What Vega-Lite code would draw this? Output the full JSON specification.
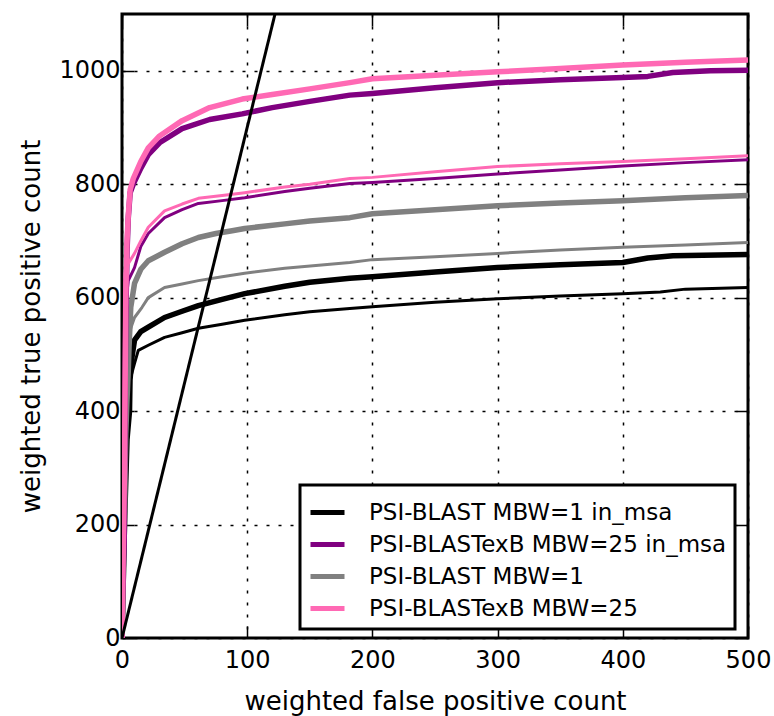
{
  "$schema": "https://vega.github.io/schema/vega-lite/v6.json",
  "width": 626,
  "height": 624,
  "autosize": "none",
  "padding": {"left": 122, "top": 14, "right": 26, "bottom": 78},
  "background": "white",
  "datasets": {
    "curves": [
      {"series":"PSI-BLAST MBW=1 in_msa","kind":"thick","x":0,"y":0},
      {"series":"PSI-BLAST MBW=1 in_msa","kind":"thick","x":2,"y":200},
      {"series":"PSI-BLAST MBW=1 in_msa","kind":"thick","x":4,"y":350},
      {"series":"PSI-BLAST MBW=1 in_msa","kind":"thick","x":6,"y":400},
      {"series":"PSI-BLAST MBW=1 in_msa","kind":"thick","x":6.4,"y":455},
      {"series":"PSI-BLAST MBW=1 in_msa","kind":"thick","x":8,"y":495},
      {"series":"PSI-BLAST MBW=1 in_msa","kind":"thick","x":10,"y":525},
      {"series":"PSI-BLAST MBW=1 in_msa","kind":"thick","x":15,"y":540},
      {"series":"PSI-BLAST MBW=1 in_msa","kind":"thick","x":21,"y":548},
      {"series":"PSI-BLAST MBW=1 in_msa","kind":"thick","x":34,"y":565},
      {"series":"PSI-BLAST MBW=1 in_msa","kind":"thick","x":48,"y":576},
      {"series":"PSI-BLAST MBW=1 in_msa","kind":"thick","x":61,"y":586},
      {"series":"PSI-BLAST MBW=1 in_msa","kind":"thick","x":80,"y":597},
      {"series":"PSI-BLAST MBW=1 in_msa","kind":"thick","x":98,"y":607},
      {"series":"PSI-BLAST MBW=1 in_msa","kind":"thick","x":130,"y":620},
      {"series":"PSI-BLAST MBW=1 in_msa","kind":"thick","x":150,"y":627},
      {"series":"PSI-BLAST MBW=1 in_msa","kind":"thick","x":182,"y":634},
      {"series":"PSI-BLAST MBW=1 in_msa","kind":"thick","x":200,"y":637},
      {"series":"PSI-BLAST MBW=1 in_msa","kind":"thick","x":250,"y":645},
      {"series":"PSI-BLAST MBW=1 in_msa","kind":"thick","x":300,"y":653},
      {"series":"PSI-BLAST MBW=1 in_msa","kind":"thick","x":350,"y":658},
      {"series":"PSI-BLAST MBW=1 in_msa","kind":"thick","x":400,"y":662},
      {"series":"PSI-BLAST MBW=1 in_msa","kind":"thick","x":420,"y":670},
      {"series":"PSI-BLAST MBW=1 in_msa","kind":"thick","x":440,"y":674},
      {"series":"PSI-BLAST MBW=1 in_msa","kind":"thick","x":500,"y":676},

      {"series":"PSI-BLAST MBW=1 in_msa","kind":"thin","x":0,"y":0},
      {"series":"PSI-BLAST MBW=1 in_msa","kind":"thin","x":2.5,"y":170},
      {"series":"PSI-BLAST MBW=1 in_msa","kind":"thin","x":3,"y":350},
      {"series":"PSI-BLAST MBW=1 in_msa","kind":"thin","x":5,"y":420},
      {"series":"PSI-BLAST MBW=1 in_msa","kind":"thin","x":7,"y":460},
      {"series":"PSI-BLAST MBW=1 in_msa","kind":"thin","x":10,"y":484},
      {"series":"PSI-BLAST MBW=1 in_msa","kind":"thin","x":13,"y":507},
      {"series":"PSI-BLAST MBW=1 in_msa","kind":"thin","x":21,"y":516},
      {"series":"PSI-BLAST MBW=1 in_msa","kind":"thin","x":34,"y":530},
      {"series":"PSI-BLAST MBW=1 in_msa","kind":"thin","x":48,"y":538},
      {"series":"PSI-BLAST MBW=1 in_msa","kind":"thin","x":61,"y":546},
      {"series":"PSI-BLAST MBW=1 in_msa","kind":"thin","x":80,"y":553},
      {"series":"PSI-BLAST MBW=1 in_msa","kind":"thin","x":98,"y":560},
      {"series":"PSI-BLAST MBW=1 in_msa","kind":"thin","x":130,"y":570},
      {"series":"PSI-BLAST MBW=1 in_msa","kind":"thin","x":150,"y":575},
      {"series":"PSI-BLAST MBW=1 in_msa","kind":"thin","x":182,"y":581},
      {"series":"PSI-BLAST MBW=1 in_msa","kind":"thin","x":200,"y":584},
      {"series":"PSI-BLAST MBW=1 in_msa","kind":"thin","x":250,"y":592},
      {"series":"PSI-BLAST MBW=1 in_msa","kind":"thin","x":300,"y":598},
      {"series":"PSI-BLAST MBW=1 in_msa","kind":"thin","x":350,"y":603},
      {"series":"PSI-BLAST MBW=1 in_msa","kind":"thin","x":400,"y":607},
      {"series":"PSI-BLAST MBW=1 in_msa","kind":"thin","x":430,"y":610},
      {"series":"PSI-BLAST MBW=1 in_msa","kind":"thin","x":450,"y":615},
      {"series":"PSI-BLAST MBW=1 in_msa","kind":"thin","x":500,"y":618},

      {"series":"PSI-BLAST MBW=1","kind":"thick","x":0,"y":0},
      {"series":"PSI-BLAST MBW=1","kind":"thick","x":2,"y":200},
      {"series":"PSI-BLAST MBW=1","kind":"thick","x":3,"y":360},
      {"series":"PSI-BLAST MBW=1","kind":"thick","x":4,"y":420},
      {"series":"PSI-BLAST MBW=1","kind":"thick","x":5,"y":470},
      {"series":"PSI-BLAST MBW=1","kind":"thick","x":5.6,"y":512},
      {"series":"PSI-BLAST MBW=1","kind":"thick","x":7,"y":583},
      {"series":"PSI-BLAST MBW=1","kind":"thick","x":10,"y":625},
      {"series":"PSI-BLAST MBW=1","kind":"thick","x":15,"y":650},
      {"series":"PSI-BLAST MBW=1","kind":"thick","x":21,"y":665},
      {"series":"PSI-BLAST MBW=1","kind":"thick","x":34,"y":680},
      {"series":"PSI-BLAST MBW=1","kind":"thick","x":48,"y":695},
      {"series":"PSI-BLAST MBW=1","kind":"thick","x":61,"y":706},
      {"series":"PSI-BLAST MBW=1","kind":"thick","x":75,"y":713},
      {"series":"PSI-BLAST MBW=1","kind":"thick","x":88,"y":718},
      {"series":"PSI-BLAST MBW=1","kind":"thick","x":98,"y":722},
      {"series":"PSI-BLAST MBW=1","kind":"thick","x":130,"y":730},
      {"series":"PSI-BLAST MBW=1","kind":"thick","x":150,"y":735},
      {"series":"PSI-BLAST MBW=1","kind":"thick","x":182,"y":741},
      {"series":"PSI-BLAST MBW=1","kind":"thick","x":200,"y":748},
      {"series":"PSI-BLAST MBW=1","kind":"thick","x":250,"y":755},
      {"series":"PSI-BLAST MBW=1","kind":"thick","x":300,"y":762},
      {"series":"PSI-BLAST MBW=1","kind":"thick","x":350,"y":767},
      {"series":"PSI-BLAST MBW=1","kind":"thick","x":400,"y":771},
      {"series":"PSI-BLAST MBW=1","kind":"thick","x":450,"y":776},
      {"series":"PSI-BLAST MBW=1","kind":"thick","x":500,"y":780},

      {"series":"PSI-BLAST MBW=1","kind":"thin","x":0,"y":0},
      {"series":"PSI-BLAST MBW=1","kind":"thin","x":2,"y":250},
      {"series":"PSI-BLAST MBW=1","kind":"thin","x":3,"y":420},
      {"series":"PSI-BLAST MBW=1","kind":"thin","x":4,"y":500},
      {"series":"PSI-BLAST MBW=1","kind":"thin","x":6,"y":540},
      {"series":"PSI-BLAST MBW=1","kind":"thin","x":10,"y":565},
      {"series":"PSI-BLAST MBW=1","kind":"thin","x":16,"y":583},
      {"series":"PSI-BLAST MBW=1","kind":"thin","x":21,"y":600},
      {"series":"PSI-BLAST MBW=1","kind":"thin","x":34,"y":618},
      {"series":"PSI-BLAST MBW=1","kind":"thin","x":48,"y":624},
      {"series":"PSI-BLAST MBW=1","kind":"thin","x":61,"y":630},
      {"series":"PSI-BLAST MBW=1","kind":"thin","x":80,"y":637},
      {"series":"PSI-BLAST MBW=1","kind":"thin","x":98,"y":643},
      {"series":"PSI-BLAST MBW=1","kind":"thin","x":130,"y":652},
      {"series":"PSI-BLAST MBW=1","kind":"thin","x":182,"y":662},
      {"series":"PSI-BLAST MBW=1","kind":"thin","x":200,"y":667},
      {"series":"PSI-BLAST MBW=1","kind":"thin","x":250,"y":672},
      {"series":"PSI-BLAST MBW=1","kind":"thin","x":300,"y":678},
      {"series":"PSI-BLAST MBW=1","kind":"thin","x":350,"y":684},
      {"series":"PSI-BLAST MBW=1","kind":"thin","x":400,"y":689},
      {"series":"PSI-BLAST MBW=1","kind":"thin","x":450,"y":693},
      {"series":"PSI-BLAST MBW=1","kind":"thin","x":500,"y":697},

      {"series":"PSI-BLASTexB MBW=25 in_msa","kind":"thick","x":0,"y":0},
      {"series":"PSI-BLASTexB MBW=25 in_msa","kind":"thick","x":2,"y":300},
      {"series":"PSI-BLASTexB MBW=25 in_msa","kind":"thick","x":3,"y":560},
      {"series":"PSI-BLASTexB MBW=25 in_msa","kind":"thick","x":4,"y":680},
      {"series":"PSI-BLASTexB MBW=25 in_msa","kind":"thick","x":5,"y":740},
      {"series":"PSI-BLASTexB MBW=25 in_msa","kind":"thick","x":6.5,"y":785},
      {"series":"PSI-BLASTexB MBW=25 in_msa","kind":"thick","x":9,"y":800},
      {"series":"PSI-BLASTexB MBW=25 in_msa","kind":"thick","x":15,"y":828},
      {"series":"PSI-BLASTexB MBW=25 in_msa","kind":"thick","x":21,"y":852},
      {"series":"PSI-BLASTexB MBW=25 in_msa","kind":"thick","x":30,"y":873},
      {"series":"PSI-BLASTexB MBW=25 in_msa","kind":"thick","x":48,"y":898},
      {"series":"PSI-BLASTexB MBW=25 in_msa","kind":"thick","x":70,"y":914},
      {"series":"PSI-BLASTexB MBW=25 in_msa","kind":"thick","x":96,"y":924},
      {"series":"PSI-BLASTexB MBW=25 in_msa","kind":"thick","x":120,"y":935},
      {"series":"PSI-BLASTexB MBW=25 in_msa","kind":"thick","x":150,"y":946},
      {"series":"PSI-BLASTexB MBW=25 in_msa","kind":"thick","x":182,"y":957},
      {"series":"PSI-BLASTexB MBW=25 in_msa","kind":"thick","x":200,"y":960},
      {"series":"PSI-BLASTexB MBW=25 in_msa","kind":"thick","x":250,"y":970},
      {"series":"PSI-BLASTexB MBW=25 in_msa","kind":"thick","x":300,"y":979},
      {"series":"PSI-BLASTexB MBW=25 in_msa","kind":"thick","x":350,"y":984},
      {"series":"PSI-BLASTexB MBW=25 in_msa","kind":"thick","x":400,"y":988},
      {"series":"PSI-BLASTexB MBW=25 in_msa","kind":"thick","x":420,"y":990},
      {"series":"PSI-BLASTexB MBW=25 in_msa","kind":"thick","x":440,"y":997},
      {"series":"PSI-BLASTexB MBW=25 in_msa","kind":"thick","x":470,"y":1000},
      {"series":"PSI-BLASTexB MBW=25 in_msa","kind":"thick","x":500,"y":1001},

      {"series":"PSI-BLASTexB MBW=25 in_msa","kind":"thin","x":0,"y":0},
      {"series":"PSI-BLASTexB MBW=25 in_msa","kind":"thin","x":2.8,"y":172},
      {"series":"PSI-BLASTexB MBW=25 in_msa","kind":"thin","x":3,"y":450},
      {"series":"PSI-BLASTexB MBW=25 in_msa","kind":"thin","x":3.5,"y":600},
      {"series":"PSI-BLASTexB MBW=25 in_msa","kind":"thin","x":5,"y":630},
      {"series":"PSI-BLASTexB MBW=25 in_msa","kind":"thin","x":10,"y":653},
      {"series":"PSI-BLASTexB MBW=25 in_msa","kind":"thin","x":15,"y":690},
      {"series":"PSI-BLASTexB MBW=25 in_msa","kind":"thin","x":21,"y":713},
      {"series":"PSI-BLASTexB MBW=25 in_msa","kind":"thin","x":34,"y":741},
      {"series":"PSI-BLASTexB MBW=25 in_msa","kind":"thin","x":48,"y":755},
      {"series":"PSI-BLASTexB MBW=25 in_msa","kind":"thin","x":61,"y":766},
      {"series":"PSI-BLASTexB MBW=25 in_msa","kind":"thin","x":80,"y":771},
      {"series":"PSI-BLASTexB MBW=25 in_msa","kind":"thin","x":98,"y":776},
      {"series":"PSI-BLASTexB MBW=25 in_msa","kind":"thin","x":130,"y":787},
      {"series":"PSI-BLASTexB MBW=25 in_msa","kind":"thin","x":150,"y":793},
      {"series":"PSI-BLASTexB MBW=25 in_msa","kind":"thin","x":182,"y":801},
      {"series":"PSI-BLASTexB MBW=25 in_msa","kind":"thin","x":200,"y":803},
      {"series":"PSI-BLASTexB MBW=25 in_msa","kind":"thin","x":250,"y":810},
      {"series":"PSI-BLASTexB MBW=25 in_msa","kind":"thin","x":300,"y":818},
      {"series":"PSI-BLASTexB MBW=25 in_msa","kind":"thin","x":350,"y":825},
      {"series":"PSI-BLASTexB MBW=25 in_msa","kind":"thin","x":400,"y":832},
      {"series":"PSI-BLASTexB MBW=25 in_msa","kind":"thin","x":450,"y":838},
      {"series":"PSI-BLASTexB MBW=25 in_msa","kind":"thin","x":500,"y":843},

      {"series":"PSI-BLASTexB MBW=25","kind":"thick","x":0,"y":0},
      {"series":"PSI-BLASTexB MBW=25","kind":"thick","x":2,"y":300},
      {"series":"PSI-BLASTexB MBW=25","kind":"thick","x":3,"y":600},
      {"series":"PSI-BLASTexB MBW=25","kind":"thick","x":4,"y":700},
      {"series":"PSI-BLASTexB MBW=25","kind":"thick","x":5,"y":745},
      {"series":"PSI-BLASTexB MBW=25","kind":"thick","x":6.5,"y":790},
      {"series":"PSI-BLASTexB MBW=25","kind":"thick","x":9,"y":810},
      {"series":"PSI-BLASTexB MBW=25","kind":"thick","x":15,"y":840},
      {"series":"PSI-BLASTexB MBW=25","kind":"thick","x":21,"y":864},
      {"series":"PSI-BLASTexB MBW=25","kind":"thick","x":30,"y":885},
      {"series":"PSI-BLASTexB MBW=25","kind":"thick","x":48,"y":912},
      {"series":"PSI-BLASTexB MBW=25","kind":"thick","x":70,"y":935},
      {"series":"PSI-BLASTexB MBW=25","kind":"thick","x":96,"y":950},
      {"series":"PSI-BLASTexB MBW=25","kind":"thick","x":120,"y":958},
      {"series":"PSI-BLASTexB MBW=25","kind":"thick","x":150,"y":968},
      {"series":"PSI-BLASTexB MBW=25","kind":"thick","x":182,"y":979},
      {"series":"PSI-BLASTexB MBW=25","kind":"thick","x":200,"y":986},
      {"series":"PSI-BLASTexB MBW=25","kind":"thick","x":250,"y":992},
      {"series":"PSI-BLASTexB MBW=25","kind":"thick","x":300,"y":998},
      {"series":"PSI-BLASTexB MBW=25","kind":"thick","x":350,"y":1004},
      {"series":"PSI-BLASTexB MBW=25","kind":"thick","x":400,"y":1010},
      {"series":"PSI-BLASTexB MBW=25","kind":"thick","x":450,"y":1015},
      {"series":"PSI-BLASTexB MBW=25","kind":"thick","x":500,"y":1019},

      {"series":"PSI-BLASTexB MBW=25","kind":"thin","x":0,"y":0},
      {"series":"PSI-BLASTexB MBW=25","kind":"thin","x":1.5,"y":300},
      {"series":"PSI-BLASTexB MBW=25","kind":"thin","x":2,"y":550},
      {"series":"PSI-BLASTexB MBW=25","kind":"thin","x":2.5,"y":643},
      {"series":"PSI-BLASTexB MBW=25","kind":"thin","x":5,"y":660},
      {"series":"PSI-BLASTexB MBW=25","kind":"thin","x":10,"y":678},
      {"series":"PSI-BLASTexB MBW=25","kind":"thin","x":15,"y":700},
      {"series":"PSI-BLASTexB MBW=25","kind":"thin","x":21,"y":724},
      {"series":"PSI-BLASTexB MBW=25","kind":"thin","x":34,"y":753},
      {"series":"PSI-BLASTexB MBW=25","kind":"thin","x":48,"y":765},
      {"series":"PSI-BLASTexB MBW=25","kind":"thin","x":61,"y":775},
      {"series":"PSI-BLASTexB MBW=25","kind":"thin","x":80,"y":780},
      {"series":"PSI-BLASTexB MBW=25","kind":"thin","x":98,"y":785},
      {"series":"PSI-BLASTexB MBW=25","kind":"thin","x":130,"y":795},
      {"series":"PSI-BLASTexB MBW=25","kind":"thin","x":150,"y":800},
      {"series":"PSI-BLASTexB MBW=25","kind":"thin","x":182,"y":810},
      {"series":"PSI-BLASTexB MBW=25","kind":"thin","x":200,"y":812},
      {"series":"PSI-BLASTexB MBW=25","kind":"thin","x":250,"y":822},
      {"series":"PSI-BLASTexB MBW=25","kind":"thin","x":300,"y":831},
      {"series":"PSI-BLASTexB MBW=25","kind":"thin","x":350,"y":836},
      {"series":"PSI-BLASTexB MBW=25","kind":"thin","x":400,"y":840},
      {"series":"PSI-BLASTexB MBW=25","kind":"thin","x":450,"y":845},
      {"series":"PSI-BLASTexB MBW=25","kind":"thin","x":500,"y":850}
    ],
    "diagonal": [
      {"x": 0, "y": 0},
      {"x": 500, "y": 4500}
    ]
  },
  "layer": [
    {
      "data": {"name": "curves"},
      "mark": {"type": "line", "clip": true, "interpolate": "linear", "strokeJoin": "round", "strokeCap": "butt"},
      "encoding": {
        "x": {
          "field": "x", "type": "quantitative",
          "scale": {"domain": [0, 500], "nice": false, "zero": false},
          "axis": {"orient": "bottom", "values": [0, 100, 200, 300, 400, 500], "format": "d", "title": "weighted false positive count", "grid": true, "labelPadding": 22, "titlePadding": 16, "labelFlush": false, "labelOverlap": false, "labelBound": false}
        },
        "y": {
          "field": "y", "type": "quantitative",
          "scale": {"domain": [0, 1100], "nice": false, "zero": false},
          "axis": {"orient": "left", "values": [0, 200, 400, 600, 800, 1000], "format": "d", "title": "weighted true positive count", "grid": true, "labelPadding": 14, "titlePadding": 14, "labelFlush": false, "labelOverlap": false, "labelBound": false}
        },
        "color": {
          "field": "series", "type": "nominal",
          "scale": {
            "domain": ["PSI-BLAST MBW=1 in_msa", "PSI-BLASTexB MBW=25 in_msa", "PSI-BLAST MBW=1", "PSI-BLASTexB MBW=25"],
            "range": ["#000000", "#800080", "#808080", "#ff69b4"]
          },
          "legend": {
            "orient": "none", "legendX": 178, "legendY": 471,
            "title": null,
            "labelFont": "DejaVu Sans", "labelFontSize": 23, "labelColor": "black", "labelLimit": 0,
            "symbolType": "stroke", "symbolStrokeWidth": 5, "symbolSize": 1156,
            "strokeColor": "black", "fillColor": "white",
            "padding": 8, "rowPadding": 0, "labelOffset": 22, "cornerRadius": 0,
            "encode": {"legend": {"update": {"strokeWidth": {"value": 3}}}}
          }
        },
        "strokeWidth": {
          "field": "kind", "type": "nominal",
          "scale": {"domain": ["thick", "thin"], "range": [5.5, 3]},
          "legend": null
        }
      }
    },
    {
      "data": {"name": "diagonal"},
      "mark": {"type": "line", "clip": true, "color": "black", "strokeWidth": 3},
      "encoding": {
        "x": {
          "field": "x", "type": "quantitative",
          "scale": {"domain": [0, 500], "nice": false, "zero": false},
          "axis": {"orient": "top", "values": [0, 100, 200, 300, 400, 500], "labels": false, "title": null, "grid": false}
        },
        "y": {
          "field": "y", "type": "quantitative",
          "scale": {"domain": [0, 1100], "nice": false, "zero": false},
          "axis": {"orient": "right", "values": [0, 200, 400, 600, 800, 1000], "labels": false, "title": null, "grid": false}
        }
      }
    }
  ],
  "resolve": {"axis": {"x": "independent", "y": "independent"}},
  "config": {
    "view": {"stroke": "black", "strokeWidth": 3},
    "axis": {
      "domain": false,
      "labelFont": "DejaVu Sans", "titleFont": "DejaVu Sans",
      "labelFontSize": 24, "titleFontSize": 26, "titleFontWeight": "normal",
      "labelColor": "black", "titleColor": "black",
      "tickColor": "black", "tickWidth": 1.5, "tickSize": -12,
      "gridColor": "black", "gridDash": [3, 9], "gridWidth": 1.5, "gridOpacity": 1
    }
  }
}
